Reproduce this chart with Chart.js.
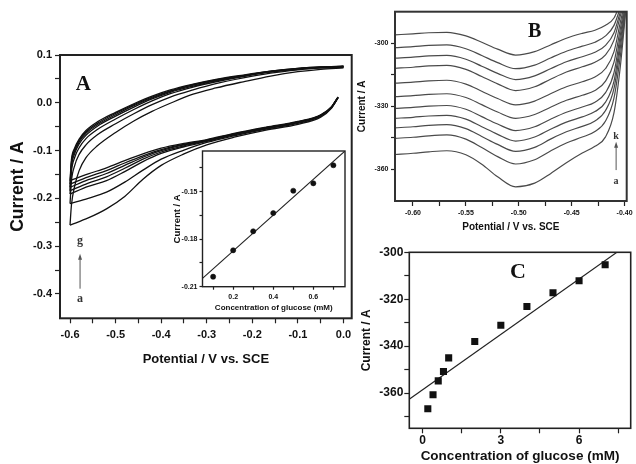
<!DOCTYPE html>
<html><head><meta charset="utf-8">
<script src="https://cdn.jsdelivr.net/npm/chart.js@4"></script>
<style>
html,body{margin:0;padding:0;background:#fff;}
#wrap{position:relative;width:636px;height:464px;overflow:hidden;background:#fff;}
canvas{position:absolute;}
</style></head><body>
<div id="wrap">
<canvas id="cA" style="left:0px;top:0px" width="360" height="380"></canvas>
<canvas id="cI" style="left:170px;top:140px" width="185" height="180"></canvas>
<canvas id="cB" style="left:355px;top:0px" width="281" height="240"></canvas>
<canvas id="cC" style="left:360px;top:240px" width="276" height="224"></canvas>
</div>
<script>
// ---------------- Panel A: cyclic voltammograms (loops a..g) ----------------
const A_UP_E = [-0.6,-0.597,-0.59,-0.58,-0.565,-0.54,-0.5,-0.46,-0.42,-0.38,-0.33,-0.28,-0.22,-0.16,-0.1,-0.05,0];
const A_UP_G = [-0.163,-0.120,-0.095,-0.076,-0.058,-0.040,-0.020,-0.002,0.014,0.027,0.039,0.049,0.058,0.066,0.072,0.075,0.077];
const A_UP_F = [-0.170,-0.125,-0.098,-0.079,-0.061,-0.043,-0.022,-0.004,0.012,0.025,0.038,0.048,0.057,0.066,0.072,0.075,0.076];
const A_UP_E_ = [-0.177,-0.130,-0.102,-0.082,-0.064,-0.046,-0.025,-0.006,0.010,0.024,0.037,0.047,0.057,0.065,0.071,0.074,0.076];
const A_UP_D = [-0.184,-0.136,-0.107,-0.086,-0.068,-0.049,-0.028,-0.009,0.008,0.022,0.035,0.046,0.056,0.065,0.071,0.074,0.075];
const A_UP_C = [-0.191,-0.145,-0.115,-0.094,-0.075,-0.056,-0.034,-0.014,0.004,0.019,0.033,0.044,0.055,0.064,0.070,0.073,0.075];
const A_UP_B = [-0.211,-0.165,-0.132,-0.108,-0.088,-0.067,-0.044,-0.023,-0.004,0.012,0.027,0.040,0.052,0.062,0.069,0.073,0.074];
const A_UP_A = [-0.256,-0.215,-0.175,-0.142,-0.115,-0.090,-0.062,-0.038,-0.018,-0.001,0.018,0.031,0.044,0.056,0.065,0.070,0.073];

const A_DN_E = [-0.012,-0.026,-0.05,-0.1,-0.17,-0.24,-0.3,-0.35,-0.4,-0.44,-0.48,-0.52,-0.56,-0.6];
const A_DN_G = [0.012,-0.008,-0.025,-0.039,-0.051,-0.064,-0.077,-0.085,-0.095,-0.107,-0.121,-0.136,-0.149,-0.163];
const A_DN_F = [0.012,-0.008,-0.026,-0.040,-0.052,-0.065,-0.078,-0.087,-0.098,-0.111,-0.126,-0.142,-0.155,-0.170];
const A_DN_E_ = [0.012,-0.009,-0.026,-0.040,-0.053,-0.066,-0.079,-0.088,-0.100,-0.114,-0.131,-0.148,-0.161,-0.177];
const A_DN_D = [0.012,-0.009,-0.027,-0.041,-0.053,-0.066,-0.080,-0.090,-0.103,-0.118,-0.137,-0.155,-0.168,-0.184];
const A_DN_C = [0.011,-0.009,-0.027,-0.041,-0.054,-0.067,-0.081,-0.092,-0.106,-0.123,-0.144,-0.163,-0.175,-0.191];
const A_DN_B = [0.011,-0.010,-0.028,-0.043,-0.055,-0.069,-0.083,-0.099,-0.118,-0.141,-0.166,-0.187,-0.200,-0.211];
const A_DN_A = [0.010,-0.011,-0.030,-0.045,-0.057,-0.072,-0.088,-0.107,-0.131,-0.160,-0.196,-0.222,-0.241,-0.256];

const A_X_MAJOR = [-0.6,-0.5,-0.4,-0.3,-0.2,-0.1,0.0];
const A_X_MINOR = [-0.55,-0.45,-0.35,-0.25,-0.15,-0.05];
const A_Y_MAJOR = [0.1,0.0,-0.1,-0.2,-0.3,-0.4];
const A_Y_MINOR = [0.05,-0.05,-0.15,-0.25,-0.35];

// ---------------- Panel A inset: calibration ----------------
const INSET_CONC = [0.1,0.2,0.3,0.4,0.5,0.6,0.7];
const INSET_CURR = [-0.2037,-0.187,-0.175,-0.1635,-0.1494,-0.1447,-0.1333];
const INSET_FIT_X = [0.047,0.758];
const INSET_FIT_Y = [-0.2047,-0.1243];
const INSET_X_MAJOR = [0.2,0.4,0.6];
const INSET_X_MINOR = [0.1,0.3,0.5,0.7];
const INSET_Y_MAJOR = [-0.21,-0.18,-0.15];
const INSET_Y_MINOR = [-0.195,-0.165,-0.135];

// ---------------- Panel B: DPV curves a..k ----------------
const B_E = [-0.617,-0.6,-0.585,-0.568,-0.55,-0.535,-0.52,-0.503,-0.485,-0.47,-0.455,-0.44,-0.428,-0.418,-0.41,-0.404,-0.399];
const B_K = [-296.0,-295.5,-295.0,-294.8,-296.5,-299.5,-302.8,-305.6,-304.0,-300.8,-297.6,-295.3,-293.8,-291.5,-288,-281,-275];
const B_J = [-302.1,-301.6,-301.0,-300.8,-302.6,-305.8,-309.2,-312.1,-310.4,-307.0,-303.8,-301.4,-299.5,-296.5,-291.5,-283,-276];
const B_I = [-307.1,-306.6,-306.0,-305.8,-307.6,-310.9,-314.3,-317.3,-315.5,-312.1,-308.8,-306.4,-304.3,-301,-295,-285,-277];
const B_H = [-311.9,-311.4,-310.8,-310.5,-312.4,-315.8,-319.3,-322.5,-320.7,-317.1,-313.7,-311.2,-309,-305.5,-298.5,-287,-278];
const B_G = [-319.0,-318.5,-317.9,-317.6,-319.4,-322.8,-326.3,-329.3,-327.5,-324.0,-320.7,-318.3,-316,-312,-304,-290,-279];
const B_F = [-325.4,-324.9,-324.3,-324.0,-325.8,-329.2,-332.7,-335.7,-333.9,-330.4,-327.1,-324.7,-322.5,-318,-309,-293,-280];
const B_E_ = [-331.0,-330.5,-329.9,-329.6,-331.4,-334.9,-338.4,-341.5,-339.7,-336.1,-332.8,-330.3,-328,-323.5,-314,-296,-281];
const B_D = [-335.7,-335.2,-334.6,-334.3,-336.1,-339.7,-343.3,-346.5,-344.6,-340.9,-337.5,-335.0,-332.5,-328,-318,-299,-282];
const B_C = [-340.2,-339.7,-339.0,-338.7,-340.6,-344.3,-348.1,-351.4,-349.5,-345.6,-342.1,-339.5,-337,-332,-321.5,-302,-283];
const B_B = [-345.2,-344.7,-344.0,-343.6,-345.6,-349.6,-353.9,-357.4,-355.4,-351.2,-347.4,-344.6,-342,-337,-326,-306,-284];
const B_A = [-352.9,-352.3,-351.6,-351.1,-353.0,-357.5,-363.5,-368.3,-366.5,-362.0,-356.8,-352.2,-349.0,-344.5,-333,-311,-285];
const B_X_MAJOR = [-0.60,-0.55,-0.50,-0.45,-0.40];
const B_X_MINOR = [-0.575,-0.525,-0.475,-0.425];
const B_Y_MAJOR = [-300,-330,-360];
const B_Y_MINOR = [-315,-345];

// ---------------- Panel C: peak current vs concentration ----------------
const C_CONC = [0.2,0.4,0.6,0.8,1,2,3,4,5,6,7];
const C_CURR = [-366.7,-360.7,-354.8,-350.8,-345,-338,-331.1,-323.1,-317.2,-312.1,-305.3];
const C_FIT_X = [-0.5,7.45];
const C_FIT_Y = [-362.5,-300];
const C_X_MAJOR = [0,3,6];
const C_X_MINOR = [1.5,4.5,7.5];
const C_Y_MAJOR = [-300,-320,-340,-360];
const C_Y_MINOR = [-310,-330,-350,-370];

// ---------------- helpers ----------------
const SANS = '"Liberation Sans", Arial, sans-serif';
const SERIF = '"Liberation Serif", "Times New Roman", serif';
const pts = (xs, ys) => xs.map((x, i) => ({x, y: ys[i]}));
const isIn = (v, arr) => arr.some(m => Math.abs(m - v) < 1e-9);

function axis(o) {
  const all = o.major.concat(o.minor).sort((a, b) => a - b);
  return {
    type: 'linear', min: o.min, max: o.max,
    afterBuildTicks: s => { s.ticks = all.map(v => ({value: v})); },
    afterFit: s => { if (o.isY) s.width = o.size; else s.height = o.size; },
    ticks: {
      autoSkip: false, maxRotation: 0, minRotation: 0, includeBounds: false,
      padding: o.pad, color: '#111',
      font: {family: SANS, size: o.fs, weight: 'bold'},
      callback: v => isIn(v, o.major) ? o.fmt(v) : ''
    },
    grid: {drawOnChartArea: false, drawTicks: true, tickLength: o.tl, tickColor: '#222', tickWidth: 1.2},
    border: {display: false},
    title: {display: true, text: o.title, color: '#111',
      font: {family: SANS, size: o.tfs, weight: 'bold', lineHeight: o.tlh || 1.2},
      padding: o.tpad}
  };
}

const framePlugin = {
  id: 'frame',
  beforeDraw(chart, args, opts) {
    if (opts.fill) {
      const a = chart.chartArea, ctx = chart.ctx;
      ctx.save(); ctx.fillStyle = opts.fill;
      ctx.fillRect(a.left, a.top, a.right - a.left, a.bottom - a.top);
      ctx.restore();
    }
  },
  afterDraw(chart, args, opts) {
    const a = chart.chartArea, ctx = chart.ctx;
    ctx.save(); ctx.strokeStyle = opts.color || '#222'; ctx.lineWidth = opts.width || 2;
    ctx.strokeRect(a.left, a.top, a.right - a.left, a.bottom - a.top);
    ctx.restore();
  }
};
const annotPlugin = {
  id: 'annot',
  afterDraw(chart, args, opts) {
    const ctx = chart.ctx, xs = chart.scales.x, ys = chart.scales.y;
    (opts.texts || []).forEach(t => {
      ctx.save(); ctx.font = t.font; ctx.fillStyle = t.color || '#111';
      ctx.textAlign = 'center'; ctx.textBaseline = 'middle';
      ctx.fillText(t.text, xs.getPixelForValue(t.x), ys.getPixelForValue(t.y));
      ctx.restore();
    });
    (opts.arrows || []).forEach(a => {
      const x = xs.getPixelForValue(a.x), y1 = ys.getPixelForValue(a.top), y2 = ys.getPixelForValue(a.bottom);
      ctx.save(); ctx.strokeStyle = a.color; ctx.fillStyle = a.color; ctx.lineWidth = 1;
      ctx.beginPath(); ctx.moveTo(x, y2); ctx.lineTo(x, y1 + 3); ctx.stroke();
      ctx.beginPath(); ctx.moveTo(x, y1); ctx.lineTo(x - 2, y1 + 6); ctx.lineTo(x + 2, y1 + 6); ctx.closePath(); ctx.fill();
      ctx.restore();
    });
  }
};
const baseOpts = {
  responsive: false, animation: false, events: [],
  plugins: {legend: {display: false}, tooltip: {enabled: false}}
};
const lineDs = (data, color, w, smooth) => ({
  data, showLine: true, pointRadius: 0, borderColor: color, borderWidth: w,
  cubicInterpolationMode: smooth ? 'monotone' : 'default', tension: 0, fill: false
});

// ---------------- Chart A ----------------
const A_LOOPS = [[A_UP_A, A_DN_A], [A_UP_B, A_DN_B], [A_UP_C, A_DN_C], [A_UP_D, A_DN_D],
                 [A_UP_E_, A_DN_E_], [A_UP_F, A_DN_F], [A_UP_G, A_DN_G]];
const aSets = [];
A_LOOPS.forEach(([up, dn]) => {
  aSets.push(lineDs(pts(A_UP_E, up), '#111', 1.3, true));
  aSets.push(lineDs(pts(A_DN_E, dn), '#111', 1.3, true));
});
new Chart(document.getElementById('cA'), {
  type: 'scatter',
  data: {datasets: aSets},
  options: Object.assign({}, baseOpts, {
    layout: {padding: {left: 0, top: 55, right: 8.3, bottom: 11.7}},
    scales: {
      x: axis({min: -0.622, max: 0.018, major: A_X_MAJOR, minor: A_X_MINOR, fmt: v => v.toFixed(1),
        size: 50, fs: 11, pad: 5, tl: 5, title: 'Potential / V vs. SCE', tfs: 13, tpad: {top: 0, bottom: 1.5}}),
      y: axis({isY: true, min: -0.451, max: 0.1, major: A_Y_MAJOR, minor: A_Y_MINOR, fmt: v => v.toFixed(1),
        size: 60, fs: 11, pad: 3, tl: 5, title: 'Current / A', tfs: 17.5, tpad: {top: 7.5, bottom: 0}})
    },
    plugins: Object.assign({}, baseOpts.plugins, {
      frame: {width: 2, color: '#222'},
      annot: {
        texts: [
          {text: 'A', x: -0.571, y: 0.038, font: 'bold 21px ' + SERIF},
          {text: 'g', x: -0.578, y: -0.289, font: 'bold 12px ' + SERIF, color: '#333'},
          {text: 'a', x: -0.578, y: -0.41, font: 'bold 12px ' + SERIF, color: '#333'}
        ],
        arrows: [{x: -0.578, top: -0.316, bottom: -0.389, color: '#555'}]
      }
    })
  }),
  plugins: [framePlugin, annotPlugin]
});

// ---------------- Inset ----------------
new Chart(document.getElementById('cI'), {
  type: 'scatter',
  data: {datasets: [
    {data: pts(INSET_CONC, INSET_CURR), pointRadius: 2.6, pointBackgroundColor: '#111', pointBorderColor: '#111', pointBorderWidth: 0.5},
    lineDs(pts(INSET_FIT_X, INSET_FIT_Y), '#222', 1.1, false)
  ]},
  options: Object.assign({}, baseOpts, {
    layout: {padding: {left: 0, top: 11, right: 10, bottom: 3.3}},
    scales: {
      x: axis({min: 0.047, max: 0.758, major: INSET_X_MAJOR, minor: INSET_X_MINOR, fmt: v => v.toFixed(1),
        size: 30, fs: 7, pad: 3, tl: 3, title: 'Concentration of glucose (mM)', tfs: 8, tpad: {top: 0, bottom: 4.2}}),
      y: axis({isY: true, min: -0.21, max: -0.1243, major: INSET_Y_MAJOR, minor: INSET_Y_MINOR, fmt: v => v.toFixed(2),
        size: 32.5, fs: 7, pad: 2, tl: 3, title: 'Current / A', tfs: 9.5, tpad: {top: 1.8, bottom: 0}})
    },
    plugins: Object.assign({}, baseOpts.plugins, {frame: {width: 1.4, color: '#222', fill: '#fff'}})
  }),
  plugins: [framePlugin]
});

// ---------------- Chart B ----------------
const B_CURVES = [B_A, B_B, B_C, B_D, B_E_, B_F, B_G, B_H, B_I, B_J, B_K];
new Chart(document.getElementById('cB'), {
  type: 'scatter',
  data: {datasets: B_CURVES.map(c => lineDs(pts(B_E, c), '#4a4a4a', 1.2, true))},
  options: Object.assign({}, baseOpts, {
    layout: {padding: {left: 0, top: 11.7, right: 9.3, bottom: 3}},
    scales: {
      x: axis({min: -0.617, max: -0.398, major: B_X_MAJOR, minor: B_X_MINOR, fmt: v => v.toFixed(2),
        size: 36, fs: 7, pad: 3, tl: 5, title: 'Potential / V vs. SCE', tfs: 10, tpad: {top: 0, bottom: 4}}),
      y: axis({isY: true, min: -375, max: -285, major: B_Y_MAJOR, minor: B_Y_MINOR, fmt: v => String(v),
        size: 40, fs: 7, pad: 2.5, tl: 4, title: 'Current / A', tfs: 10, tpad: {top: 1, bottom: 0}})
    },
    plugins: Object.assign({}, baseOpts.plugins, {
      frame: {width: 2, color: '#333'},
      annot: {
        texts: [
          {text: 'B', x: -0.485, y: -294.6, font: 'bold 20px ' + SERIF},
          {text: 'k', x: -0.408, y: -344.5, font: 'bold 10px ' + SERIF, color: '#333'},
          {text: 'a', x: -0.408, y: -365.9, font: 'bold 10px ' + SERIF, color: '#333'}
        ],
        arrows: [{x: -0.408, top: -346.8, bottom: -360.3, color: '#555'}]
      }
    })
  }),
  plugins: [framePlugin, annotPlugin]
});

// ---------------- Chart C ----------------
new Chart(document.getElementById('cC'), {
  type: 'scatter',
  data: {datasets: [
    {data: pts(C_CONC, C_CURR), pointStyle: 'rect', pointRadius: 5, pointBackgroundColor: '#111', pointBorderColor: '#111', pointBorderWidth: 0},
    lineDs(pts(C_FIT_X, C_FIT_Y), '#222', 1.2, false)
  ]},
  options: Object.assign({}, baseOpts, {
    layout: {padding: {left: 0, top: 12.3, right: 5.3, bottom: 0}},
    scales: {
      x: axis({min: -0.51, max: 7.98, major: C_X_MAJOR, minor: C_X_MINOR, fmt: v => String(v),
        size: 35.7, fs: 12, pad: 0, tl: 5, title: 'Concentration of glucose (mM)', tfs: 13.5, tlh: 1.1, tpad: {top: 0, bottom: 0}}),
      y: axis({isY: true, min: -375, max: -300, major: C_Y_MAJOR, minor: C_Y_MINOR, fmt: v => String(v),
        size: 49.3, fs: 12, pad: 1, tl: 5, title: 'Current / A', tfs: 12, tlh: 1.1, tpad: {top: 0.1, bottom: 0}})
    },
    plugins: Object.assign({}, baseOpts.plugins, {
      frame: {width: 1.6, color: '#222'},
      annot: {texts: [{text: 'C', x: 3.66, y: -308.4, font: 'bold 22px ' + SERIF}]}
    })
  }),
  plugins: [framePlugin, annotPlugin]
});
</script>
</body></html>
